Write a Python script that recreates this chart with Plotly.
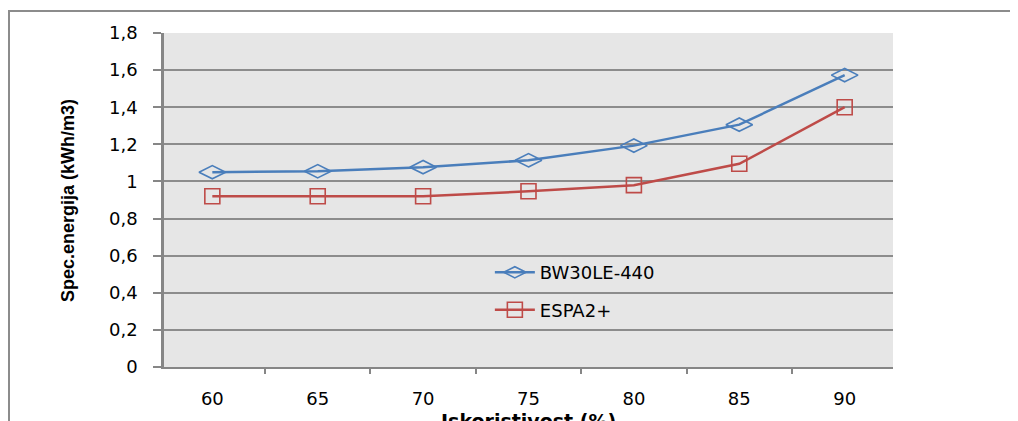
import plotly.graph_objects as go

categories = ["60", "65", "70", "75", "80", "85", "90"]
bw30le = [1.05, 1.055, 1.077, 1.114, 1.193, 1.306, 1.573]
espa2 = [0.92, 0.92, 0.92, 0.947, 0.98, 1.095, 1.4]
series_names = ["BW30LE-440", "ESPA2+"]
y_title = "Spec.energija (kWh/m3)"
x_title = "Iskoristivost (%)"

fig = go.Figure()
fig.add_trace(go.Scatter(
    x=categories, y=bw30le, name=series_names[0], mode="lines+markers",
    legendgroup="a",
    line=dict(color="#4a7ebb", width=2.5),
    marker=dict(symbol="diamond-wide-open", size=19, color="#4a7ebb", line=dict(width=1.6, color="#4a7ebb")),
))
fig.add_trace(go.Scatter(
    x=categories, y=espa2, name=series_names[1], mode="lines+markers",
    legendgroup="b",
    line=dict(color="#be4b48", width=2.5),
    marker=dict(symbol="square-open", size=15, color="#be4b48", line=dict(width=1.6, color="#be4b48")),
))

W, H = 1010, 413
L, T, PW, PH = 156, 25, 729, 334

fig.update_layout(
    width=W, height=H,
    margin=dict(l=L, r=W - L - PW, t=T, b=H - T - PH, autoexpand=False),
    paper_bgcolor="white",
    plot_bgcolor="#e6e6e6",
    separators=",.",
    font=dict(family="DejaVu Sans", size=18, color="#000000"),
    showlegend=True,
    legend=dict(x=0.447, y=0.338, xanchor="left", yanchor="top",
                bgcolor="rgba(0,0,0,0)", font=dict(size=18),
                tracegroupgap=11, itemwidth=40),
    xaxis=dict(
        type="category", tickson="boundaries", showgrid=False,
        showline=True, linecolor="#868686", linewidth=2,
        ticks="outside", ticklen=5, tickcolor="#868686", tickwidth=1.5,
        ticklabelstandoff=14, mirror=False,
    ),
    yaxis=dict(
        range=[0, 1.8], dtick=0.2, tick0=0,
        showgrid=True, gridcolor="#8c8c8c", gridwidth=1.5,
        showline=True, linecolor="#868686", linewidth=2.5,
        ticks="outside", ticklen=8, tickcolor="#868686", tickwidth=1.5,
        ticklabelstandoff=12, zeroline=False,
    ),
    shapes=[dict(type="rect", xref="paper", yref="paper",
                 x0=(1 - L) / PW, x1=1.5, y0=-0.5, y1=(T + PH - 3) / PH,
                 line=dict(color="#8c8c8c", width=2), fillcolor="rgba(0,0,0,0)", layer="below")],
    annotations=[
        dict(text="<b>" + y_title + "</b>", textangle=-90, xref="paper", yref="paper",
             x=(60 - L) / PW, y=0.5, xanchor="center", yanchor="middle", showarrow=False,
             font=dict(family="Liberation Sans Narrow, Liberation Sans", size=18)),
        dict(text="<b>" + x_title + "</b>", xref="paper", yref="paper",
             x=0.5, y=(T + PH - 400) / PH, xanchor="center", yanchor="top", showarrow=False,
             font=dict(family="DejaVu Sans", size=19)),
    ],
)

fig.write_html("out.html")
